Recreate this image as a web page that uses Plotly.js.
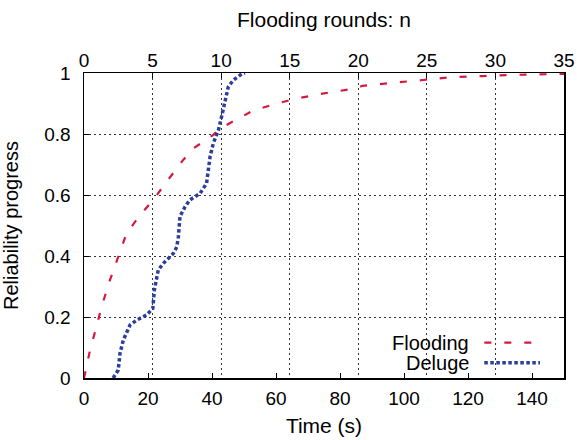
<!DOCTYPE html>
<html>
<head>
<meta charset="utf-8">
<script src="https://cdn.plot.ly/plotly-3.0.1.min.js"></script>
<style>html,body{margin:0;padding:0;background:#fff;}#chart{width:577px;height:440px;}</style>
</head>
<body>
<div id="chart"></div>
<script>
// Flooding: time (s) vs reliability progress
var floodTime = [0, 1.9, 3.9, 5.5, 8.1, 10.7, 13.3, 17.5, 21.7, 24.5, 27.9, 31, 34.2, 37.3, 40.4, 42.5, 45.6, 49.3, 52.9, 58.6, 65.4, 73.75, 81, 85, 87, 89.4, 97.7, 106, 114.4, 124.8, 135, 150];
var floodProg = [0, 0.092, 0.168, 0.234, 0.321, 0.398, 0.474, 0.534, 0.584, 0.625, 0.67, 0.715, 0.753, 0.775, 0.797, 0.818, 0.835, 0.857, 0.877, 0.895, 0.914, 0.931, 0.944, 0.950, 0.958, 0.961, 0.969, 0.977, 0.986, 0.990, 0.994, 0.997];
// Deluge: time (s) vs reliability progress
var delugeTime = [9.1, 10.7, 11.25, 12.3, 14.4, 16.5, 19.6, 21.5, 22, 23.2, 24.8, 27.9, 29, 29.5, 30, 31.6, 33.1, 36.25, 38.3, 38.8, 39.4, 40.4, 42, 43, 44.1, 45.1, 46.7, 49.3, 50.3];
var delugeProg = [0, 0.026, 0.081, 0.125, 0.174, 0.19, 0.207, 0.228, 0.289, 0.354, 0.376, 0.408, 0.43, 0.464, 0.53, 0.562, 0.584, 0.605, 0.638, 0.67, 0.726, 0.769, 0.813, 0.857, 0.911, 0.955, 0.977, 0.997, 1.0];
// axis ticks
var timeTicks = [0, 20, 40, 60, 80, 100, 120, 140];
var roundTicks = [0, 5, 10, 15, 20, 25, 30, 35];
var progTicks = [0, 0.2, 0.4, 0.6, 0.8, 1];
var progLabels = ['0', '0.2', '0.4', '0.6', '0.8', '1'];
var seriesNames = ['Flooding', 'Deluge'];

var FONT = 'Liberation Sans, Arial, Helvetica, sans-serif';
var RED = 'rgb(214,24,60)';
var BLUE = 'rgb(44,62,156)';
var RED_DASH = '7px,13px';
var BLUE_DASH = '3.5px,2.5px';

var traces = [
  {x: floodTime, y: floodProg, type: 'scatter', mode: 'lines', name: seriesNames[0],
   line: {color: RED, width: 2.2, dash: RED_DASH}, showlegend: false, hoverinfo: 'skip'},
  {x: delugeTime, y: delugeProg, type: 'scatter', mode: 'lines', name: seriesNames[1],
   line: {color: BLUE, width: 3.5, dash: BLUE_DASH}, showlegend: false, hoverinfo: 'skip'},
  {x: [], y: [], xaxis: 'x2', yaxis: 'y', type: 'scatter', mode: 'lines', showlegend: false, hoverinfo: 'skip'}
];

var gridColor = '#333';
var layout = {
  width: 577, height: 440,
  margin: {l: 84, r: 13, t: 73, b: 62, pad: 0},
  paper_bgcolor: '#fff', plot_bgcolor: '#fff',
  font: {family: FONT, size: 19, color: '#000'},
  showlegend: false,
  xaxis: {
    range: [0, 150], tickvals: timeTicks, ticks: 'inside', ticklen: 5, tickwidth: 1, tickcolor: '#000',
    showline: true, linecolor: '#000', linewidth: 1.5, mirror: false, showgrid: false, zeroline: false,
    ticklabelstandoff: 3,
    title: {text: 'Time (s)', font: {size: 21}, standoff: 10}
  },
  xaxis2: {
    overlaying: 'x', side: 'top', anchor: 'y', range: [0, 35], tickvals: roundTicks,
    ticks: 'inside', ticklen: 5, tickwidth: 1, tickcolor: '#000',
    showline: true, linecolor: '#000', linewidth: 1.5,
    showgrid: true, gridcolor: gridColor, gridwidth: 1, griddash: '2px,3px', zeroline: false,
    ticklabelstandoff: -3,
    title: {text: 'Flooding rounds: n', font: {size: 21}, standoff: 16}
  },
  yaxis: {
    range: [0, 1], tickvals: progTicks, ticktext: progLabels, ticks: 'inside', ticklen: 5, tickwidth: 1, tickcolor: '#000',
    showline: true, linecolor: '#000', linewidth: 1.5, mirror: 'ticks',
    showgrid: true, gridcolor: gridColor, gridwidth: 1, griddash: '2px,3px', zeroline: false,
    ticklabelstandoff: 8,
    title: {text: 'Reliability progress', font: {size: 20}, standoff: 21}
  },
  annotations: [
    {xref: 'paper', yref: 'paper', x: 0.806, y: 0.116, xanchor: 'right', yanchor: 'middle',
     text: seriesNames[0], showarrow: false, font: {size: 20}},
    {xref: 'paper', yref: 'paper', x: 0.806, y: 0.050, xanchor: 'right', yanchor: 'middle',
     text: seriesNames[1], showarrow: false, font: {size: 20}}
  ],
  shapes: [
    {type: 'line', xref: 'paper', yref: 'paper', x0: 0.834, x1: 0.95, y0: 0.116, y1: 0.116,
     line: {color: RED, width: 2.2, dash: RED_DASH}},
    {type: 'line', xref: 'paper', yref: 'paper', x0: 0.834, x1: 0.95, y0: 0.050, y1: 0.050,
     line: {color: BLUE, width: 3.5, dash: BLUE_DASH}}
  ]
};

Plotly.newPlot('chart', traces, layout, {staticPlot: true, displayModeBar: false});
</script>
</body>
</html>
